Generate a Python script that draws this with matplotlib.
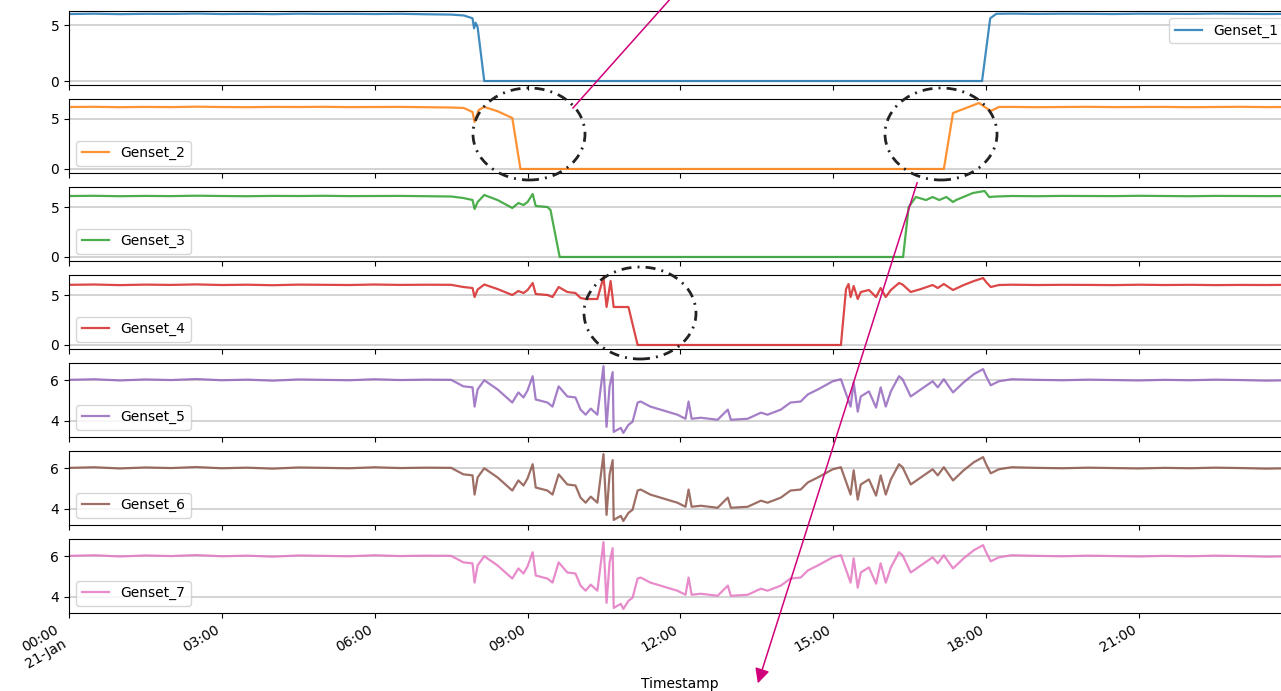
import numpy as np
import pandas as pd
import matplotlib
matplotlib.use('Agg')
import matplotlib.pyplot as plt
import matplotlib.dates as mdates
from matplotlib.patches import Ellipse, FancyArrowPatch
from matplotlib.lines import Line2D

day = pd.Timestamp('2021-01-21')

head_h = [0.0, 0.5, 1.0, 1.5, 2.0, 2.5, 3.0, 3.5, 4.0, 4.5, 5.0, 5.5, 6.0, 6.5, 7.0, 7.5]
tail_h = [18.5, 19.0, 19.5, 20.0, 20.5, 21.0, 21.5, 22.0, 22.5, 23.0, 23.5, 23.98]

g1_h = head_h + [7.75, 7.92, 7.95, 7.98, 8.02, 8.15, 17.92, 18.08, 18.2] + tail_h
g1_v = [5.98, 6.01, 5.97, 6.0, 5.99, 6.02, 5.98, 6.0, 5.97, 6.01, 5.99, 6.0, 5.98, 6.0, 5.96, 5.93,
        5.85, 5.6, 4.7, 5.2, 4.8, 0.0, 0.0, 5.6, 6.0,
        6.02, 5.99, 6.01, 6.0, 5.98, 6.01, 6.0, 5.99, 6.02, 6.0, 5.98, 6.0]

g2_h = head_h + [7.75, 7.92, 7.96, 8.04, 8.15, 8.4, 8.7, 8.86, 17.17, 17.35, 17.86, 18.09, 18.25] + tail_h
g2_v = [6.2, 6.22, 6.18, 6.21, 6.19, 6.23, 6.2, 6.18, 6.21, 6.2, 6.22, 6.19, 6.2, 6.21, 6.18, 6.15,
        6.1, 5.7, 4.7, 5.9, 6.2, 5.8, 5.1, 0.0, 0.0, 5.6, 6.6, 5.8, 6.2,
        6.21, 6.18, 6.2, 6.22, 6.19, 6.2, 6.21, 6.18, 6.2, 6.22, 6.19, 6.2]

g3_h = head_h + [7.74, 7.92, 7.96, 8.02, 8.15, 8.41, 8.7, 8.82, 8.92, 9.0, 9.1, 9.16, 9.39, 9.45, 9.63,
                 16.37, 16.48, 16.62, 16.82, 16.95, 17.08, 17.22, 17.35, 17.41, 17.74, 17.97, 18.06, 18.2] + tail_h
g3_v = [6.1, 6.12, 6.08, 6.11, 6.09, 6.13, 6.1, 6.08, 6.11, 6.1, 6.12, 6.09, 6.1, 6.11, 6.08, 6.05,
        5.9, 5.7, 4.8, 5.5, 6.2, 5.7, 4.9, 5.4, 5.2, 5.5, 6.3, 5.1, 5.0, 4.7, 0.0,
        0.0, 5.0, 6.0, 5.7, 6.0, 5.7, 6.0, 5.5, 5.7, 6.4, 6.6, 6.0, 6.05,
        6.1, 6.08, 6.11, 6.1, 6.09, 6.12, 6.1, 6.08, 6.11, 6.1, 6.09, 6.1]

g4_h = head_h + [7.74, 7.92, 7.96, 8.02, 8.15, 8.41, 8.7, 8.82, 8.92, 9.0, 9.1, 9.16, 9.39, 9.49, 9.61,
                 9.78, 9.94, 10.04, 10.14, 10.37, 10.49, 10.55, 10.63, 10.69, 10.98, 11.16,
                 15.15, 15.25, 15.3, 15.34, 15.4, 15.48, 15.54, 15.7, 15.84, 15.93, 16.03, 16.13, 16.29,
                 16.36, 16.52, 16.72, 16.95, 17.05, 17.17, 17.35, 17.56, 17.76, 17.94, 18.0, 18.09, 18.25] + tail_h
g4_v = [6.02, 6.05, 5.99, 6.04, 6.01, 6.06, 6.0, 6.03, 5.98, 6.04, 6.02, 6.0, 6.05, 6.01, 6.03, 6.02,
        5.8, 5.7, 4.8, 5.55, 6.05, 5.6, 5.0, 5.4, 5.2, 5.5, 6.2, 5.1, 5.0, 4.8, 5.8,
        5.3, 5.2, 4.7, 4.6, 4.6, 6.8, 3.8, 6.4, 3.8, 3.8, 0.0,
        0.0, 5.6, 6.1, 4.8, 5.9, 4.6, 5.3, 5.5, 4.8, 5.7, 4.8, 5.5, 6.2,
        6.05, 5.3, 5.6, 6.0, 5.7, 6.1, 5.5, 6.0, 6.4, 6.7, 6.3, 5.8, 6.0,
        6.03, 6.0, 6.02, 6.01, 5.99, 6.03, 6.0, 6.02, 5.99, 6.01, 6.0, 6.02]

g5_h = head_h + [7.74, 7.92, 7.96, 8.02, 8.15, 8.41, 8.7, 8.82, 8.92, 9.0, 9.1, 9.16, 9.39, 9.49, 9.61,
                 9.78, 9.94, 10.04, 10.14, 10.24, 10.37, 10.49, 10.55, 10.61, 10.67, 10.69, 10.83, 10.88,
                 10.98, 11.06, 11.16, 11.22, 11.41, 11.61, 11.94, 12.1, 12.16, 12.22, 12.4, 12.73, 12.93,
                 12.99, 13.32, 13.58, 13.71, 13.97, 14.16, 14.36, 14.5, 14.7, 14.99, 15.15, 15.34, 15.4,
                 15.48, 15.54, 15.7, 15.84, 15.93, 16.03, 16.13, 16.29, 16.36, 16.52, 16.72, 16.95, 17.05,
                 17.17, 17.35, 17.56, 17.76, 17.94, 18.0, 18.09, 18.25] + tail_h
g5_v = [6.02, 6.05, 5.99, 6.04, 6.01, 6.06, 6.0, 6.03, 5.98, 6.04, 6.02, 6.0, 6.05, 6.01, 6.03, 6.02,
        5.7, 5.65, 4.7, 5.55, 6.0, 5.55, 4.9, 5.4, 5.15, 5.5, 6.2, 5.05, 4.9, 4.7, 5.7,
        5.2, 5.15, 4.55, 4.3, 4.6, 4.3, 6.7, 3.7, 5.7, 6.4, 3.45, 3.65, 3.4,
        3.8, 3.95, 4.9, 4.95, 4.7, 4.55, 4.3, 4.1, 4.95, 4.1, 4.15, 4.05, 4.55,
        4.05, 4.1, 4.4, 4.3, 4.55, 4.9, 4.95, 5.3, 5.55, 5.95, 6.05, 4.7, 5.9,
        4.45, 5.2, 5.45, 4.65, 5.65, 4.7, 5.45, 6.2, 6.05, 5.2, 5.55, 5.95, 5.65,
        6.05, 5.4, 5.9, 6.3, 6.55, 6.2, 5.75, 5.95,
        6.05, 6.02, 6.0, 6.03, 6.01, 5.99, 6.02, 6.0, 6.03, 6.01, 5.98, 6.0]

# gensets 5, 6 and 7 read the same in the picture
g6_h, g6_v = list(g5_h), list(g5_v)
g7_h, g7_v = list(g5_h), list(g5_v)

names = ['Genset_1', 'Genset_2', 'Genset_3', 'Genset_4', 'Genset_5', 'Genset_6', 'Genset_7']
hours = [g1_h, g2_h, g3_h, g4_h, g5_h, g6_h, g7_h]
values = [g1_v, g2_v, g3_v, g4_v, g5_v, g6_v, g7_v]
ylims = [(-0.35, 6.25), (-0.4, 7.0), (-0.4, 7.0), (-0.4, 7.0), (3.2, 6.85), (3.2, 6.85), (3.2, 6.85)]
yticks = [[0, 5], [0, 5], [0, 5], [0, 5], [4, 6], [4, 6], [4, 6]]
colors = plt.rcParams['axes.prop_cycle'].by_key()['color']

W, H = 1281, 691
fig = plt.figure(figsize=(W / 100, H / 100), dpi=100)
axes = fig.subplots(7, 1, sharex=True,
                    gridspec_kw=dict(left=69 / W, right=1291 / W, top=1 - 11 / H,
                                     bottom=1 - 613 / H, hspace=0.19))

for i, ax in enumerate(axes):
    t = day + pd.to_timedelta(hours[i], unit='h')
    ax.plot(t, values[i], color=colors[i], lw=1.6, alpha=0.85, label=names[i])
    ax.set_ylim(*ylims[i])
    ax.set_yticks(yticks[i])
    ax.yaxis.grid(True, color='#cccccc', lw=1.2)
    ax.legend(loc='upper right' if i == 0 else 'lower left', fontsize=10)

axes[-1].set_xlim(day, day + pd.Timedelta(hours=23, minutes=59))
axes[-1].xaxis.set_major_locator(mdates.HourLocator(byhour=range(0, 24, 3)))


def fmt(x, pos=None):
    d = mdates.num2date(x)
    if d.hour == 0:
        return d.strftime('%H:%M\n%d-%b')
    return d.strftime('%H:%M')


axes[-1].xaxis.set_major_formatter(plt.FuncFormatter(fmt))
plt.setp(axes[-1].get_xticklabels(), rotation=30, ha='right')
fig.text(680 / W, 1 - 684 / H, 'Timestamp', ha='center', va='center', fontsize=10)

# hand drawn markings
for cx, cy in [(529, 134), (941, 134), (640, 313)]:
    fig.add_artist(Ellipse((cx / W, 1 - cy / H), 112 / W, 92 / H, transform=fig.transFigure,
                           fill=False, ec='#222222', lw=2, ls=(0, (3.6, 2.2, 0.7, 2.2))))

pink = '#d1007b'
fig.add_artist(Line2D([573 / W, 680 / W], [1 - 108 / H, 1 + 12 / H], transform=fig.transFigure,
                      color=pink, lw=1.1))
fig.add_artist(FancyArrowPatch((918 / W, 1 - 180 / H), (757 / W, 1 - 686 / H),
                               transform=fig.transFigure, arrowstyle='-|>', mutation_scale=22,
                               color=pink, lw=1.1))

fig.savefig('out.png', dpi=100)
